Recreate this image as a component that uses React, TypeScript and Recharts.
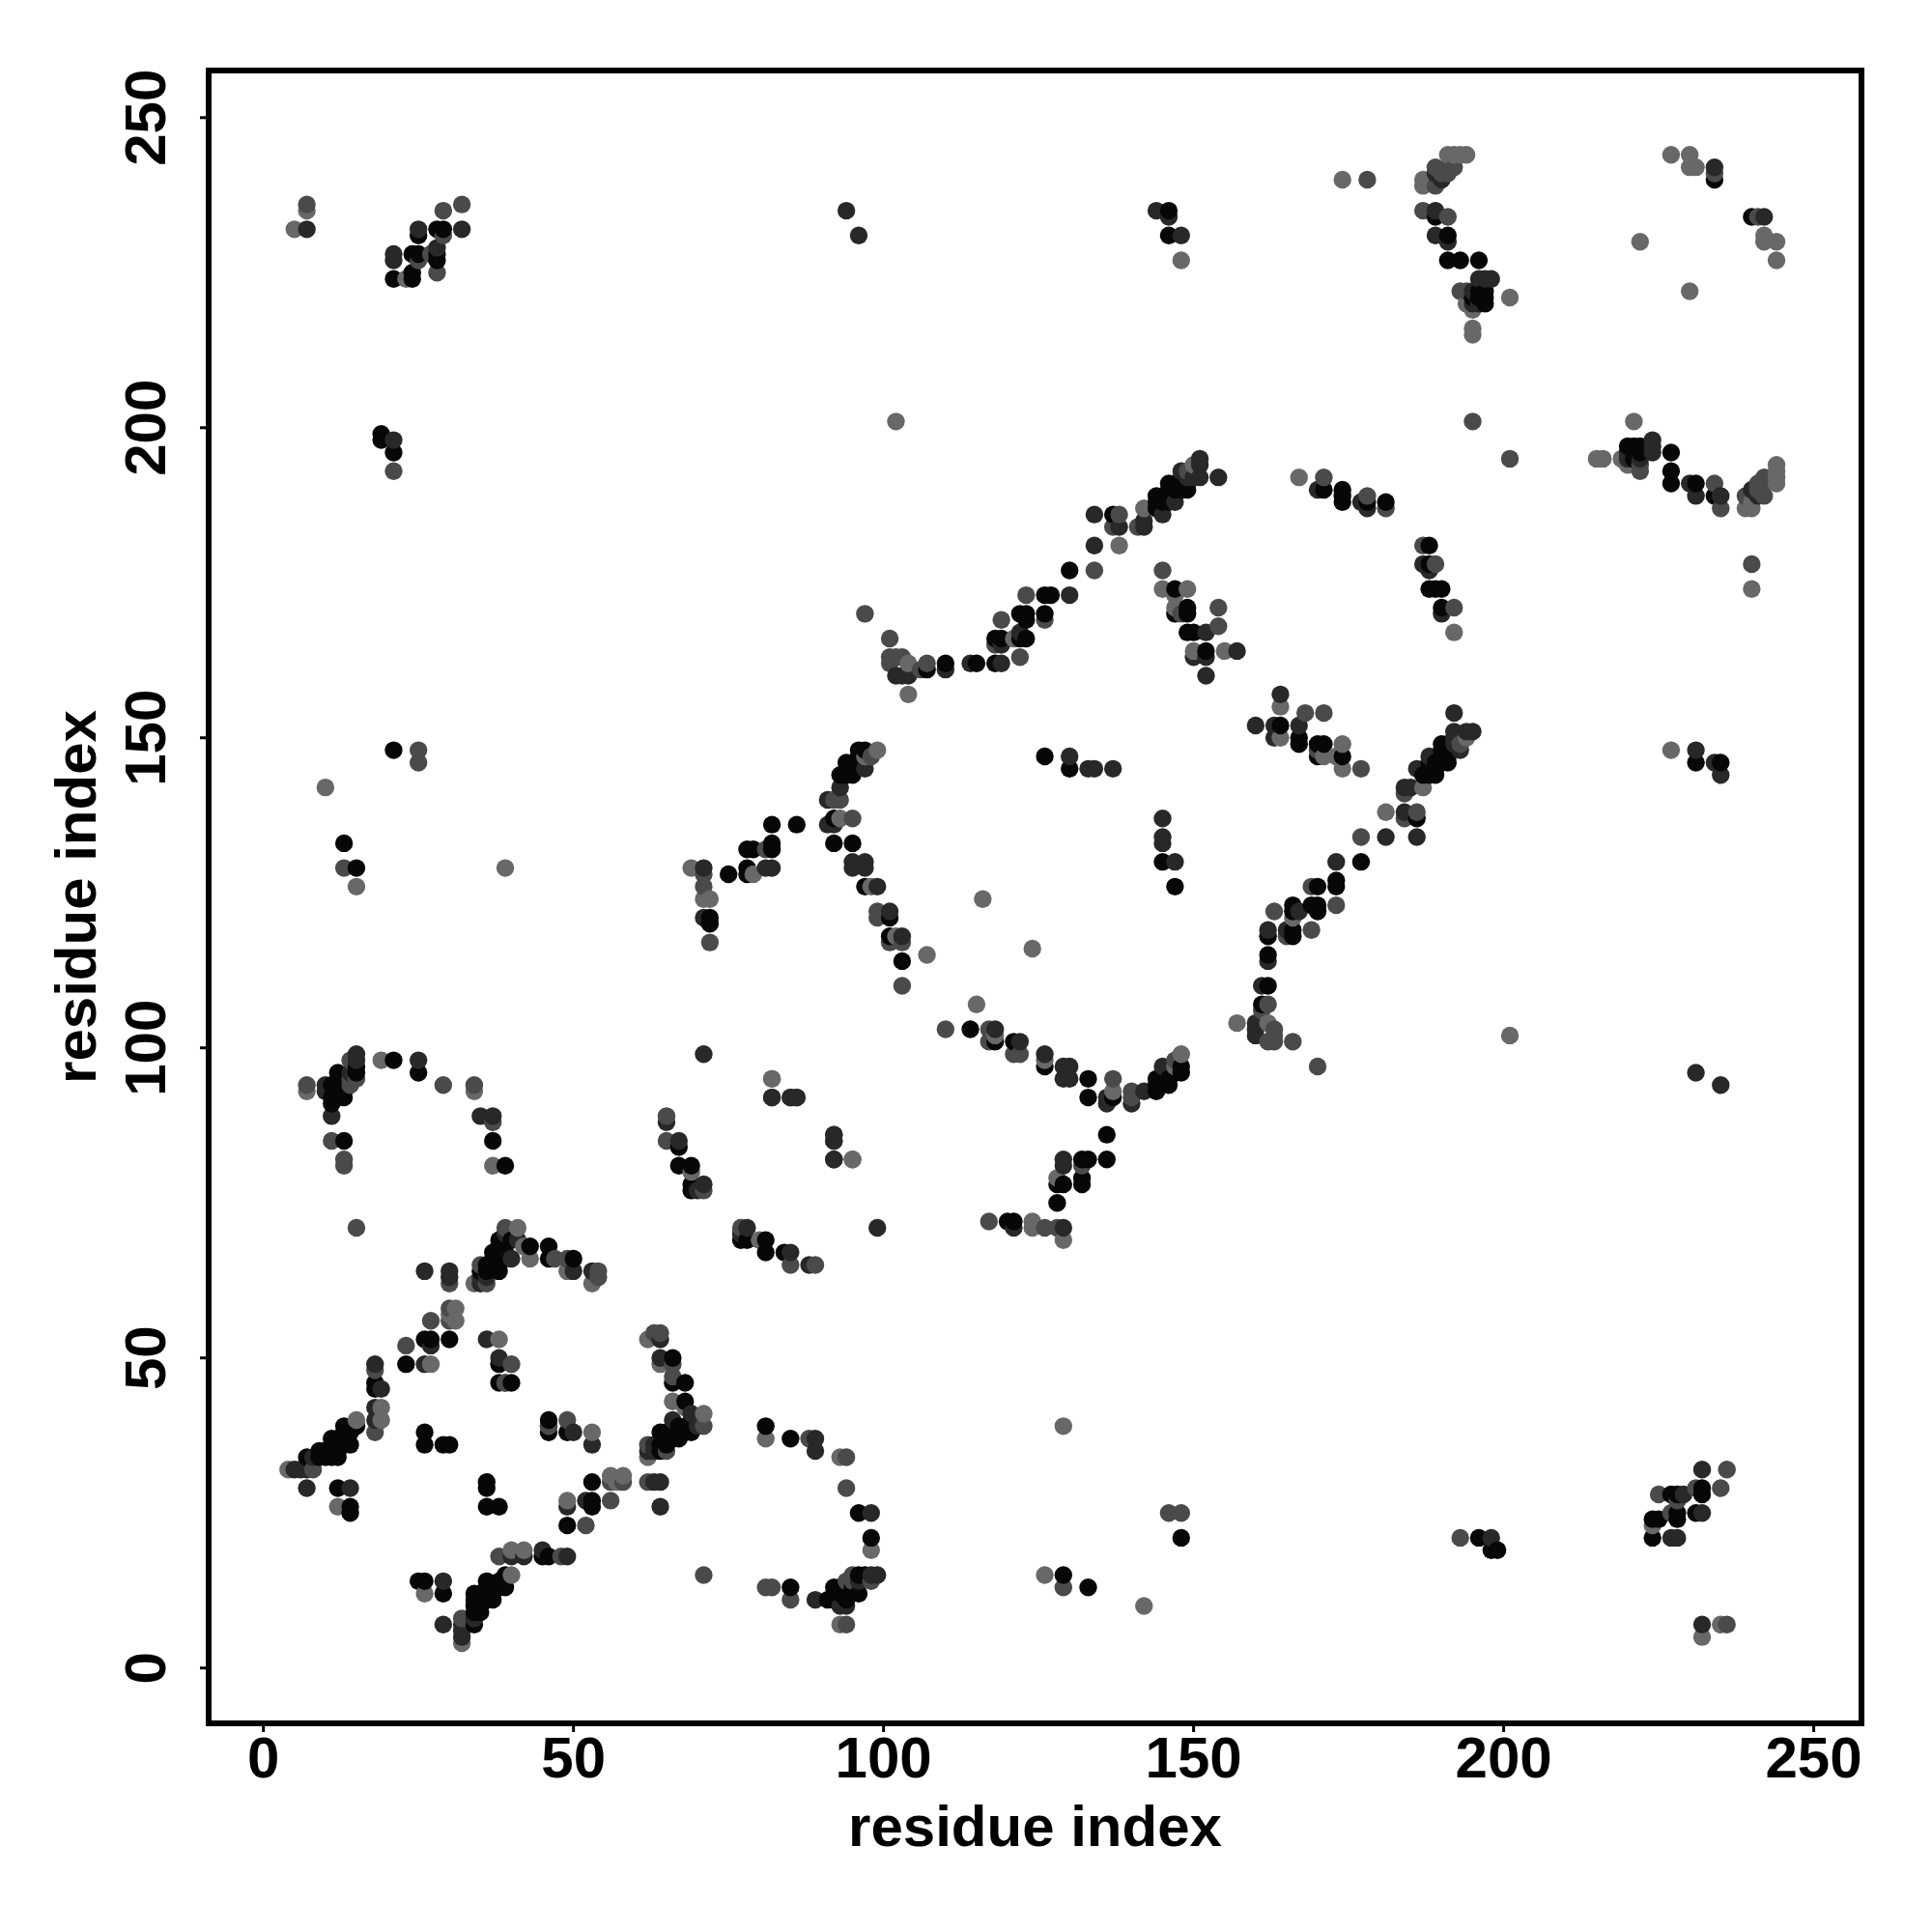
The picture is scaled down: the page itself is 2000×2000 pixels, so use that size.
import * as React from "react";
import { ScatterChart, Scatter, XAxis, YAxis, Cell, ReferenceArea, Label } from "recharts";

const FONT = "'Liberation Sans', Arial, sans-serif";
const AXIS_TICKS = [0, 50, 100, 150, 200, 250];
const X_DOMAIN: [number, number] = [-8.83, 257.7];
const Y_DOMAIN: [number, number] = [-8.92, 257.6];
const SHADES = ["#070707", "#282828", "#4a4a4a", "#686868"];
const DOT_RADIUS = 9.2;

// each contact is a residue pair (i, j); a contact map plots it at both (i, j) and (j, i)
const blackContacts: [number, number][] = [
  [36,64],[37,67],[37,65],[38,64],[39,69],[39,67],[40,69],[43,68],[46,68],[46,66],[50,66],[38,67],[38,65],[36,65],[35,64],[38,66],[37,66],[38,69],[38,68],
  [26,53],[27,53],[30,53],[23,49],[18,45],[18,46],[15,39],[13,39],[13,38],[14,38],[14,36],[11,37],[11,36],[13,36],[10,35],[12,34],[11,34],[10,34],[7,34],[12,29],[14,26],[14,25],[12,36],[12,35],[13,37],[12,37],[9,34],[9,35],
  [26,38],[26,36],[29,36],[30,36],[38,46],[40,46],[38,49],
  [69,77],[69,78],[69,81],[67,81],[67,84],[37,85],[39,81],[21,98],[25,96],[13,85],[11,91],[11,92],[11,94],[12,96],[13,92],[12,94],[12,93],[13,95],[15,96],[15,97],[13,93],[12,92],
  [72,121],[72,120],[75,128],[78,128],[78,129],[78,132],[79,132],[82,132],[82,133],[82,136],[86,136],[92,133],[95,133],[97,126],[101,121],[101,118],[103,114],[92,137],[93,144],[94,144],[94,146],[95,144],[96,147],[96,148],[97,148],[95,146],
  [126,147],[130,145],[107,161],[110,162],[115,162],[118,162],[118,166],[119,166],[122,166],[123,166],[122,170],[123,170],[123,169],[126,170],[126,173],[127,173],[130,177],[137,186],[144,187],[144,189],[146,188],[146,191],[148,191],[149,190],[145,188],[145,189],[147,190],[147,191],[146,190],[144,188],[146,189],[148,190],[149,191],
  [147,174],[147,170],[149,171],[149,170],[149,167],[150,167],[152,164],
  [171,190],[174,190],[174,189],[174,188],[181,188],[178,188],
  [189,234],[191,231],[191,227],[193,227],[196,227],[197,222],[195,221],[197,221],[197,220],[196,222],[196,221],
  [19,199],[19,198],[21,196],[21,148],[13,133],[15,129],[146,235],[146,231],[21,224],[24,224],[24,225],[24,228],[25,228],[25,231],[28,228],[28,232],[29,232],[28,227],[234,240],
];

const darkContacts: [number, number][] = [
  [26,64],[30,64],[30,63],[35,62],[35,63],[36,63],[40,66],[41,69],[50,64],[53,64],[27,52],[26,49],[18,49],[19,45],[18,42],[18,40],[8,34],[5,32],[6,32],[7,29],[14,29],[39,70],[36,53],[38,50],[7,32],
  [71,78],[70,77],[67,85],[65,88],[92,86],[92,85],[92,82],[85,92],[86,92],[82,92],[71,99],[25,98],[35,89],[37,89],[11,89],[10,94],[10,93],[15,99],[15,98],[14,96],
  [71,129],[71,121],[81,129],[82,129],[91,136],[92,136],[91,140],[93,142],[97,130],[97,129],[95,130],[95,129],[99,126],[101,122],[103,118],[97,145],
  [130,147],[133,145],[134,145],[137,145],
  [102,160],[103,160],[104,160],[110,161],[114,162],[119,162],[119,165],[122,167],[130,173],[134,181],[134,186],[138,184],[142,184],[142,185],[145,186],[147,188],[148,193],[150,192],[151,192],[151,194],[151,195],[154,192],[149,192],
  [150,163],[152,167],[152,163],[157,164],[152,160],
  [170,190],[177,188],[178,187],
  [189,235],[189,231],[191,230],[196,224],[197,224],[198,224],[195,222],[195,220],[196,220],[189,241],[190,240],
  [234,242],[21,198],[144,235],[148,231],[96,231],[94,235],[146,234],[21,227],[21,228],[25,232],[28,229],[32,232],[7,232],
];

const midContacts: [number, number][] = [
  [15,71],[30,62],[36,62],[35,65],[39,71],[47,66],[49,66],[54,64],[54,63],[30,56],[30,58],[27,56],[23,52],[18,48],[18,38],[8,32],[40,49],[39,46],[46,39],
  [7,94],[14,95],[15,95],[14,98],[14,94],[11,85],[13,82],[13,81],[29,94],[34,94],[37,88],[65,89],[65,85],[71,77],
  [71,128],[71,126],[72,117],[81,132],[93,140],[92,140],[95,137],[98,147],[99,121],[99,122],[101,117],[103,117],[103,110],[97,170],
  [101,166],[101,163],[101,162],[102,163],[103,163],[106,161],[107,162],[118,165],[119,169],[122,163],[123,173],[126,169],[134,177],[138,186],[137,184],[141,184],[149,193],
  [145,177],[148,170],[154,171],[154,168],
  [171,192],[178,189],[181,187],
  [187,235],[191,234],[193,222],[194,222],[189,239],[189,242],[190,241],[191,242],[192,242],[191,241],
  [234,241],[195,201],[178,240],
  [25,148],[25,146],[13,129],[21,193],[7,236],[25,227],[27,228],[28,225],[29,231],[29,235],[32,236],
];

const lightContacts: [number, number][] = [
  [34,62],[41,71],[42,68],[43,66],[49,64],[53,62],[31,58],[31,56],[30,57],[27,49],[19,42],[19,40],[15,40],[4,32],[12,26],[38,53],
  [7,93],[34,93],[19,98],[37,81],[69,80],[82,95],[95,82],[69,129],[72,124],[71,124],[79,128],[93,137],[99,148],[97,147],[98,126],[102,118],[107,115],[116,124],
  [104,157],[104,162],[121,166],[138,181],[142,187],[150,194],
  [145,174],[149,174],[147,171],[147,173],[150,164],[155,164],
  [167,192],[174,240],[187,240],[187,239],[188,240],[191,244],[192,244],[193,244],[194,244],[194,220],[195,219],[195,216],[195,215],[201,221],[102,201],
  [227,244],[230,244],[230,242],[231,242],[222,230],[39,129],[10,142],[15,126],[5,232],[7,235],[148,227],[23,224],
];

const contactGroups = [blackContacts, darkContacts, midContacts, lightContacts];

const points = contactGroups
  .flatMap((group, shade) =>
    group.flatMap(([i, j]) => [
      { x: i, y: j, shade },
      { x: j, y: i, shade },
    ]),
  )
  .sort((a, b) => a.x - b.x || a.y - b.y);

const tickStyle = { fontFamily: FONT, fontSize: 60, fontWeight: 700, fill: "#000" };

function RotatedTick({ x, y, payload }: any): React.ReactElement {
  return (
    <text x={x} y={y} transform={`rotate(-90 ${x} ${y})`} textAnchor="middle" {...tickStyle}>
      {payload.value}
    </text>
  );
}

function ContactDot({ cx, cy, fill }: any): React.ReactElement {
  return <circle cx={cx} cy={cy} r={DOT_RADIUS} fill={fill} />;
}

export default function App(): React.ReactElement {
  return (
    <div style={{ position: "absolute", left: 0, top: 0, width: 2000, height: 2000, background: "#fff" }}>
      <ScatterChart width={2000} height={2000} margin={{ top: 73, right: 73, bottom: 0, left: 0 }}>
        <XAxis
          type="number"
          dataKey="x"
          domain={X_DOMAIN}
          ticks={AXIS_TICKS}
          allowDataOverflow
          height={216}
          axisLine={false}
          tickLine={{ stroke: "#000", strokeWidth: 3 }}
          tickSize={9}
          tickMargin={4}
          interval={0}
          tick={tickStyle}
        >
          <Label
            content={({ viewBox }: any) => (
              <text x={viewBox.x + viewBox.width / 2} y={1911} textAnchor="middle" {...tickStyle}>
                residue index
              </text>
            )}
          />
        </XAxis>
        <YAxis
          type="number"
          dataKey="y"
          domain={Y_DOMAIN}
          ticks={AXIS_TICKS}
          allowDataOverflow
          width={216}
          axisLine={false}
          tickLine={{ stroke: "#000", strokeWidth: 3 }}
          tickSize={9}
          tickMargin={36}
          interval={0}
          tick={<RotatedTick />}
        >
          <Label
            content={({ viewBox }: any) => {
              const cy = viewBox.y + viewBox.height / 2;
              return (
                <text x={99} y={cy} transform={`rotate(-90 99 ${cy})`} textAnchor="middle" {...tickStyle}>
                  residue index
                </text>
              );
            }}
          />
        </YAxis>
        <ReferenceArea
          x1={X_DOMAIN[0]}
          x2={X_DOMAIN[1]}
          y1={Y_DOMAIN[0]}
          y2={Y_DOMAIN[1]}
          fill="none"
          stroke="#000"
          strokeWidth={6}
          ifOverflow="visible"
        />
        <Scatter data={points} shape={<ContactDot />} isAnimationActive={false}>
          {points.map((p, index) => (
            <Cell key={`contact-${index}`} fill={SHADES[p.shade]} />
          ))}
        </Scatter>
      </ScatterChart>
    </div>
  );
}
